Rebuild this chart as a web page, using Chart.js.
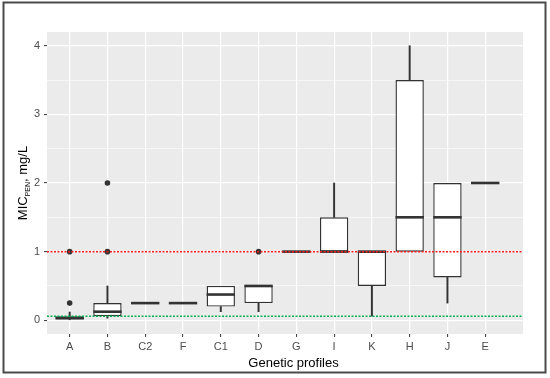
<!DOCTYPE html>
<html>
<head>
<meta charset="utf-8">
<script src="https://cdn.jsdelivr.net/npm/chart.js@4/dist/chart.umd.min.js"></script>
<style>
  html, body { margin: 0; padding: 0; background: #fff; }
  #wrap { width: 550px; height: 378px; }
</style>
</head>
<body>
<div id="wrap"><canvas id="myChart" width="550" height="378"></canvas></div>
<script>
// MIC values per genetic profile (mg/L)
const categories = ['A', 'B', 'C2', 'F', 'C1', 'D', 'G', 'I', 'K', 'H', 'J', 'E'];
const whiskerLow  = [0.008, 0.03, 0.25, 0.25, 0.125, 0.125, 1, 1,   0.06, 1,   0.25,  2];
const q1          = [0.016, 0.06, 0.25, 0.25, 0.2,   0.25,  1, 1,   0.5,  1,   0.625, 2];
const median      = [0.03,  0.125,0.25, 0.25, 0.375, 0.5,   1, 1,   1,    1.5, 1.5,   2];
const q3          = [0.06,  0.25, 0.25, 0.25, 0.5,   0.5,   1, 1.5, 1,    3.5, 2,     2];
const whiskerHigh = [0.12,  0.5,  0.25, 0.25, 0.5,   0.5,   1, 2,   1,    4,   2,     2];
const outlierCat  = ['A', 'A', 'B', 'B', 'D'];
const outlierVal  = [0.25, 1,   1,   2,   1];
const yTicks = [0, 0.5, 1, 1.5, 2, 2.5, 3, 3.5, 4];
const xMin = -0.6, xMax = 12;
const yMin = -0.2, yMax = 4.2;
const refValues = [1, 0.06];
const refColors = ['#ff1a1a', '#00b050'];

const ink = '#333333';

// floating [lo, hi] segments, skipping the collapsed ones
function pairs(lo, hi) {
  return categories
    .map((c, i) => ({ x: i, y: [lo[i], hi[i]] }))
    .filter(p => p.y[0] !== p.y[1]);
}

const refSets = refValues.map((v, k) => ({
  type: 'line',
  data: [{ x: xMin, y: v }, { x: xMax, y: v }],
  borderColor: refColors[k],
  borderWidth: 1.5,
  borderDash: [2, 1.5],
  pointRadius: 0,
  order: 0
}));

const panelBg = {
  id: 'panelBg',
  beforeDraw(chart) {
    const { ctx, chartArea: a } = chart;
    ctx.save();
    ctx.fillStyle = '#fff';
    ctx.fillRect(0, 0, chart.width, chart.height);
    ctx.fillStyle = '#ebebeb';
    ctx.fillRect(a.left, a.top, a.right - a.left, a.bottom - a.top);
    ctx.restore();
  },
  afterDraw(chart) {
    const { ctx, chartArea: a } = chart;
    ctx.save();
    // outer frame
    ctx.strokeStyle = '#4a4a4a';
    ctx.lineWidth = 2;
    ctx.strokeRect(3.5, 2.5, 542, 370);
    // x title
    ctx.fillStyle = '#000';
    ctx.font = '13px "Liberation Sans", Arial, sans-serif';
    ctx.textAlign = 'center';
    ctx.textBaseline = 'alphabetic';
    ctx.fillText('Genetic profiles', 293.5, 366.5);
    // y title with subscript
    const big = '13px "Liberation Sans", Arial, sans-serif';
    const small = '7px "Liberation Sans", Arial, sans-serif';
    ctx.font = big;
    const w1 = ctx.measureText('MIC').width;
    const w3 = ctx.measureText(', mg/L').width;
    ctx.font = small;
    const w2 = ctx.measureText('PEN').width;
    const total = w1 + w2 + w3;
    ctx.translate(26.5, (a.top + a.bottom) / 2);
    ctx.rotate(-Math.PI / 2);
    ctx.textAlign = 'left';
    let x = -total / 2;
    ctx.font = big;
    ctx.fillText('MIC', x, 0);
    x += w1;
    ctx.font = small;
    ctx.fillText('PEN', x, 3.5);
    x += w2;
    ctx.font = big;
    ctx.fillText(', mg/L', x, 0);
    ctx.restore();
  }
};

new Chart(document.getElementById('myChart').getContext('2d'), {
  type: 'bar',
  data: {
    datasets: [
      ...refSets,
      {
        type: 'scatter',
        data: categories.map((c, i) => ({ x: i, y: median[i] })),
        pointStyle: 'line',
        pointRadius: 14.2,
        pointBorderWidth: 2.6,
        pointBorderColor: ink,
        order: 1
      },
      {
        type: 'scatter',
        data: outlierCat.map((c, i) => ({ x: categories.indexOf(c), y: outlierVal[i] })),
        pointRadius: 2.8,
        pointBackgroundColor: ink,
        pointBorderWidth: 0,
        order: 1
      },
      {
        data: pairs(q1, q3),
        backgroundColor: '#ffffff',
        borderColor: ink,
        borderWidth: 1.4,
        borderSkipped: false,
        barPercentage: 0.75,
        categoryPercentage: 1,
        grouped: false,
        order: 2
      },
      {
        data: pairs(whiskerLow, q1),
        backgroundColor: ink,
        barThickness: 1.3,
        grouped: false,
        order: 3
      },
      {
        data: pairs(q3, whiskerHigh),
        backgroundColor: ink,
        barThickness: 1.3,
        grouped: false,
        order: 3
      }
    ]
  },
  options: {
    responsive: false,
    animation: false,
    events: [],
    layout: { padding: { top: 32, right: 27, left: 0, bottom: 0 } },
    plugins: { legend: { display: false }, tooltip: { enabled: false } },
    scales: {
      x: {
        type: 'linear',
        min: xMin,
        max: xMax,
        offset: false,
        afterBuildTicks: s => { s.ticks = categories.map((c, i) => ({ value: i })); },
        afterFit: s => { s.height = 44; },
        border: { display: false },
        grid: { offset: false, color: '#ffffff', lineWidth: 1.2, tickColor: ink, tickLength: 3, tickWidth: 1 },
        ticks: {
          autoSkip: false, maxRotation: 0, padding: 3,
          color: '#4d4d4d',
          font: { family: '"Liberation Sans", Arial, sans-serif', size: 11 },
          callback: v => categories[v]
        }
      },
      y: {
        min: yMin,
        max: yMax,
        afterBuildTicks: s => { s.ticks = yTicks.map(v => ({ value: v })); },
        afterFit: s => { s.width = 47; },
        border: { display: false },
        grid: {
          color: '#ffffff',
          lineWidth: c => Number.isInteger(c.tick.value) ? 1.2 : 0.6,
          tickColor: c => Number.isInteger(c.tick.value) ? ink : 'rgba(0,0,0,0)',
          tickLength: 3,
          tickWidth: 1
        },
        ticks: {
          padding: 4,
          color: '#4d4d4d',
          font: { family: '"Liberation Sans", Arial, sans-serif', size: 11 },
          callback: v => Number.isInteger(v) ? String(v) : ''
        }
      }
    }
  },
  plugins: [panelBg]
});
</script>
</body>
</html>
